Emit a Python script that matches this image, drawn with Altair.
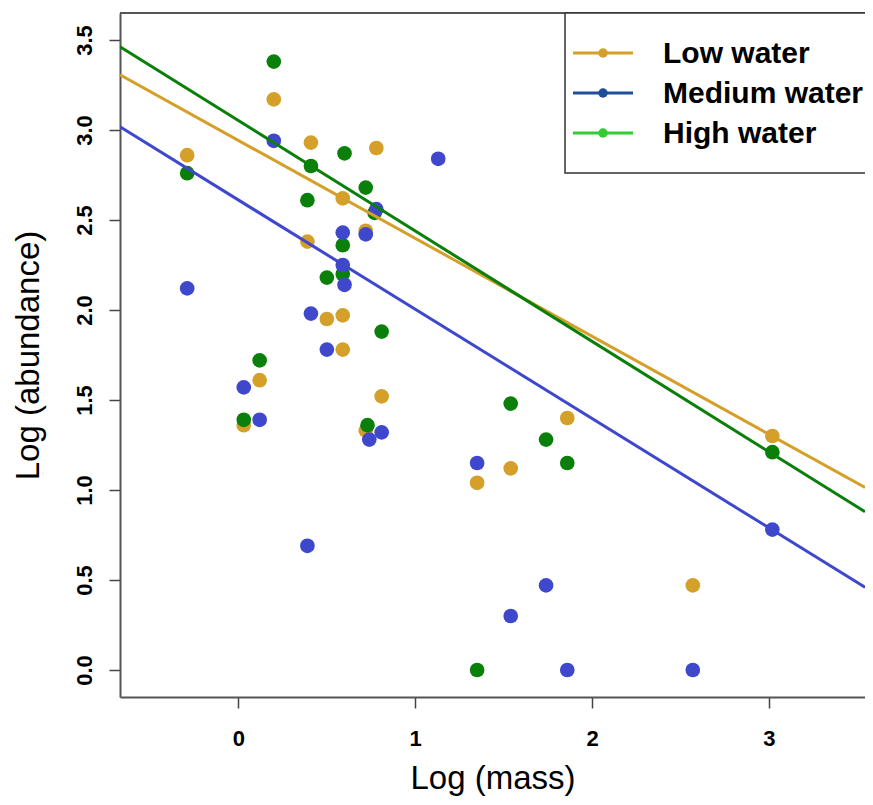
import altair as alt
import pandas as pd

groups = ["Low water", "Medium water", "High water"]
plot_colors = ["#D4A02A", "#3F48CC", "#0A800A"]
legend_colors = ["#D4A02A", "#1F4E9A", "#33CC33"]

low_x = [-0.29, 0.03, 0.12, 0.20, 0.39, 0.41, 0.50, 0.59, 0.59, 0.59, 0.72, 0.72, 0.78, 0.81, 1.35, 1.54, 1.86, 2.57, 3.02]
low_y = [2.86, 1.36, 1.61, 3.17, 2.38, 2.93, 1.95, 2.62, 1.97, 1.78, 2.44, 1.33, 2.90, 1.52, 1.04, 1.12, 1.40, 0.47, 1.30]

high_x = [-0.29, 0.03, 0.12, 0.20, 0.39, 0.41, 0.50, 0.60, 0.59, 0.59, 0.72, 0.73, 0.77, 0.81, 1.35, 1.54, 1.74, 1.86, 3.02]
high_y = [2.76, 1.39, 1.72, 3.38, 2.61, 2.80, 2.18, 2.87, 2.36, 2.20, 2.68, 1.36, 2.54, 1.88, 0.00, 1.48, 1.28, 1.15, 1.21]

med_x = [-0.29, 0.03, 0.12, 0.20, 0.39, 0.41, 0.50, 0.59, 0.59, 0.60, 0.72, 0.74, 0.78, 0.81, 1.13, 1.35, 1.54, 1.74, 1.86, 2.57, 3.02]
med_y = [2.12, 1.57, 1.39, 2.94, 0.69, 1.98, 1.78, 2.43, 2.25, 2.14, 2.42, 1.28, 2.56, 1.32, 2.84, 1.15, 0.30, 0.47, 0.00, 0.00, 0.78]

# fitted lines (Low, Medium, High)
intercepts = [2.942, 2.611, 3.052]
slopes = [-0.544, -0.607, -0.613]

x_domain = [-0.670, 3.544]
y_domain = [-0.15, 3.65]
x_ticks = [0, 1, 2, 3]
y_ticks = [0.0, 0.5, 1.0, 1.5, 2.0, 2.5, 3.0, 3.5]

# drawing order: low, high, medium (medium on top)
rows = []
for g, xs, ys in [("Low water", low_x, low_y), ("High water", high_x, high_y), ("Medium water", med_x, med_y)]:
    for a, b in zip(xs, ys):
        rows.append({"group": g, "mass": a, "abundance": b})
pts = pd.DataFrame(rows)

line_rows = []
for g, a, s in zip(groups, intercepts, slopes):
    for xv in x_domain:
        line_rows.append({"group": g, "mass": xv, "abundance": a + s * xv})
lines_df = pd.DataFrame(line_rows)

leg_df = pd.DataFrame({"group": groups})

W, H = 745, 684
frame_color = "#555555"

x_scale = alt.Scale(domain=x_domain, nice=False, zero=False)
y_scale = alt.Scale(domain=y_domain, nice=False, zero=False)
color_scale = alt.Scale(domain=groups, range=plot_colors)

x_axis = alt.Axis(values=x_ticks, format="d", labelFont="Liberation Sans", labelFontSize=22,
                  labelFontWeight="bold", labelColor="black", tickSize=11, tickColor="#444444",
                  tickWidth=1.5, domain=True, domainColor=frame_color, domainWidth=2,
                  grid=False, labelPadding=20,
                  titleFont="Liberation Sans", titleFontSize=33, titleFontWeight="normal",
                  titleColor="black", titlePadding=13)
y_axis = alt.Axis(values=y_ticks, format=".1f", labelFont="Liberation Sans", labelFontSize=22,
                  labelFontWeight="bold", labelColor="black", labelAngle=270, labelAlign="center",
                  labelBaseline="bottom", tickSize=11, tickColor="#444444", tickWidth=1.5,
                  domain=True, domainColor=frame_color, domainWidth=2,
                  grid=False, labelPadding=13,
                  titleFont="Liberation Sans", titleFontSize=33, titleFontWeight="normal",
                  titleColor="black", titlePadding=28)

points = alt.Chart(pts).mark_circle(size=215, opacity=1).encode(
    x=alt.X("mass:Q", scale=x_scale, axis=x_axis, title="Log (mass)"),
    y=alt.Y("abundance:Q", scale=y_scale, axis=y_axis, title="Log (abundance)"),
    color=alt.Color("group:N", scale=color_scale, legend=None),
)

lines = alt.Chart(lines_df).mark_line(strokeWidth=3, clip=True).encode(
    x=alt.X("mass:Q", scale=x_scale),
    y=alt.Y("abundance:Q", scale=y_scale, axis=None),
    color=alt.Color("group:N", scale=color_scale, legend=None),
)

# top edge of the plot frame (right edge lies outside the picture)
top_edge = alt.Chart(leg_df).mark_rule(color=frame_color, strokeWidth=2).encode(
    x=alt.value(0), x2=alt.value(W), y=alt.value(0)
).transform_filter(alt.datum.group == groups[0])

# legend drawn inside the plot (top-right), colours differ from the plot colours
leg_y = alt.Y("group:N", scale=alt.Scale(type="point", domain=groups, range=[40, 120], padding=0), axis=None)
leg_color = alt.Color("group:N", scale=alt.Scale(domain=groups, range=legend_colors), legend=None)

leg_box = alt.Chart(leg_df).mark_rect(fill="white", stroke="#333333", strokeWidth=1.5).encode(
    x=alt.value(445), x2=alt.value(W + 20), y=alt.value(0), y2=alt.value(160)
).transform_filter(alt.datum.group == groups[0])

leg_rule = alt.Chart(leg_df).mark_rule(strokeWidth=3).encode(
    x=alt.value(453), x2=alt.value(513), y=leg_y, color=leg_color
)
leg_dot = alt.Chart(leg_df).mark_circle(size=90, opacity=1).encode(
    x=alt.value(483), y=leg_y, color=leg_color
)
leg_text = alt.Chart(leg_df).mark_text(
    align="left", baseline="middle", font="Liberation Sans", fontSize=30, fontWeight="bold",
    color="black", dy=1
).encode(x=alt.value(543), y=leg_y, text="group:N")

chart = alt.layer(points, lines, top_edge, leg_box, leg_rule, leg_dot, leg_text).resolve_scale(
    color="independent", y="independent"
).properties(
    width=W, height=H,
    autosize=alt.AutoSizeParams(type="none"),
    padding={"left": 112, "top": 5, "right": 0, "bottom": 100},
).configure_view(stroke=None)

chart.save("out.html", embed_options={"renderer": "svg", "actions": False})
